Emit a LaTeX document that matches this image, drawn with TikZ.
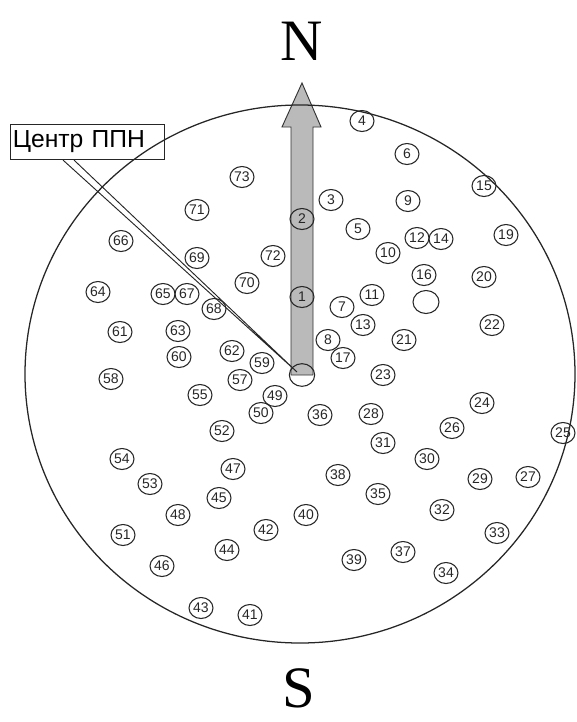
\documentclass[tikz,border=0pt]{standalone}
\usepackage{fontspec}
\setmainfont{Liberation Serif}
\setsansfont{Liberation Sans}
\usetikzlibrary{shapes.geometric,calc}

\begin{document}
\begin{tikzpicture}[
   x=0.75pt, y=-0.75pt, line width=0.8pt,
   num/.style={draw=black!85,ellipse,minimum width=18pt,minimum height=15.75pt,
               inner sep=0pt,text=black!85,font=\sffamily\fontsize{10.5}{11}\selectfont},
   hole/.style={draw=black!85,ellipse,minimum width=19pt,minimum height=17pt,inner sep=0pt},
   pole/.style={anchor=base,inner sep=0pt,font=\fontsize{44}{46}\selectfont},
   callout/.style={draw=black!85,anchor=north west,align=left,text width=112pt,
                   inner xsep=1.75pt,inner ysep=0pt,minimum height=26.25pt,
                   font=\sffamily\fontsize{18.5}{20}\selectfont},
   rim/.style={draw=black!85,line width=0.95pt},
   shaft/.style={draw=black!80,fill=black!27,line width=0.7pt},
   leader/.style={draw=black!85,line width=0.7pt},
   ]
\useasboundingbox (0,0) rectangle (576,722);
%% Compass letters
\node[pole] (north) at (302,60)  {N};
\node[pole] (south) at (299,707) {S};
%% North arrow
\draw[shaft] (291,375) -- (291,127) -- (282,127) -- (302,83) -- (321,127)
             -- (313,127) -- (313,375) -- cycle;
%% Field outline
\draw[rim] (300,374) ellipse [x radius=206.25pt, y radius=201.75pt];
%% Centre and spare hole
\node[hole] (centre) at (302,375) {};
\node[hole,minimum width=19.5pt,minimum height=17.25pt] (spare) at (426,302) {};
%% Label with pointer
\node[callout] (lbl) at (10,124) {Центр ППН};
\coordinate (tip) at (297,372);
\draw[leader] ($(lbl.south west)+(53,0)$) -- (tip) -- ($(lbl.south west)+(64,0)$);
%% Numbered wells
\foreach \n/\x/\y in {1/302/297, 2/302/219, 3/331/200, 4/362/121, 5/358/229,
   6/407/154, 7/342/307, 8/328/340, 9/408/201, 10/388/253, 11/372/295,
   12/417/238, 13/363/325, 14/441/239, 15/484/186, 16/424/275, 17/343/358,
   19/506/235, 20/484/277, 21/404/340, 22/492/325, 23/383/375, 24/482/403,
   25/563/433, 26/452/428, 27/528/477, 28/371/414, 29/480/479, 30/427/459,
   31/383/443, 32/442/510, 33/497/533, 34/446/573, 35/378/494, 36/320/415,
   37/403/552, 38/338/475, 39/354/560, 40/306/515, 41/250/615, 42/266/530,
   43/201/608, 44/227/550, 45/219/498, 46/162/566, 47/233/469, 48/178/515,
   49/275/396, 50/261/413, 51/123/535, 52/222/431, 53/150/484, 54/122/459,
   55/200/395, 57/240/380, 58/111/379, 59/262/363, 60/179/357, 61/120/332,
   62/232/351, 63/178/331, 64/98/292, 65/163/294, 66/121/241, 67/187/294,
   68/214/309, 69/197/258, 70/247/283, 71/197/210, 72/273/256, 73/242/177}
   \node[num] (w\n) at (\x,\y) {\n};
\end{tikzpicture}
\end{document}
